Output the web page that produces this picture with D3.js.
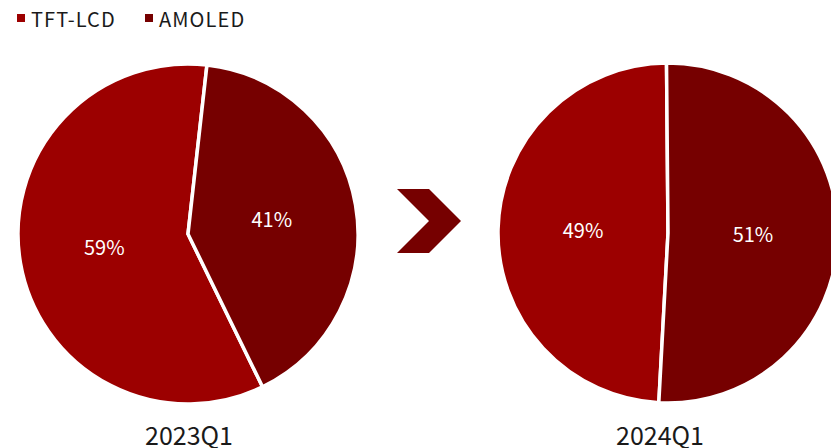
<!DOCTYPE html>
<html>
<head>
<meta charset="utf-8">
<script src="https://cdn.jsdelivr.net/npm/d3@7"></script>
<style>
  html, body { margin: 0; padding: 0; background: #fff; }
  svg { display: block; }
  text { font-family: "Noto Sans CJK SC", "Noto Sans", sans-serif; }
</style>
</head>
<body>
<svg id="chart" width="831" height="448"></svg>
<script>
// Display technology share, by quarter
const categories = ["TFT-LCD", "AMOLED"];
const periods = ["2023Q1", "2024Q1"];
const shares2023 = [59, 41];
const shares2024 = [49, 51];
const colors = ["#9c0000", "#760000"];

const svg = d3.select("#chart");
const radius = 170;
const deg = Math.PI / 180;

// one pie per period; each rotated to its own first-slice angle
const pies = [
  { period: periods[0], values: shares2023, cx: 188, cy: 234, start: 154, labelX: 189 },
  { period: periods[1], values: shares2024, cx: 668, cy: 233, start: 183.1, labelX: 660 }
];

const color = d3.scaleOrdinal().domain(categories).range(colors);
const arc = d3.arc().innerRadius(0).outerRadius(radius);
const labelArc = d3.arc().innerRadius(radius * 0.5).outerRadius(radius * 0.5);

pies.forEach(p => {
  const data = categories.map((c, i) => ({ name: c, value: p.values[i] }));
  const layout = d3.pie()
    .sort(null)
    .value(d => d.value)
    .startAngle(p.start * deg)
    .endAngle(p.start * deg + 2 * Math.PI);

  const g = svg.append("g").attr("transform", `translate(${p.cx},${p.cy})`);
  const slices = layout(data);

  g.selectAll("path")
    .data(slices)
    .join("path")
    .attr("d", arc)
    .attr("fill", d => color(d.data.name))
    .attr("stroke", "#fff")
    .attr("stroke-width", 3.5)
    .attr("stroke-linejoin", "miter");

  g.selectAll("text.pct")
    .data(slices)
    .join("text")
    .attr("class", "pct")
    .attr("transform", d => `translate(${labelArc.centroid(d)})`)
    .attr("text-anchor", "middle")
    .attr("dy", "0.35em")
    .attr("fill", "#fff")
    .attr("font-size", 20)
    .text(d => d.data.value + "%");

  svg.append("text")
    .attr("x", p.labelX)
    .attr("y", 445)
    .attr("text-anchor", "middle")
    .attr("fill", "#1a1a1a")
    .attr("font-size", 25)
    .text(p.period);
});

// chevron between the two periods
const chevron = d3.path();
chevron.moveTo(397, 189);
chevron.lineTo(429, 189);
chevron.lineTo(461, 221);
chevron.lineTo(429, 253);
chevron.lineTo(397, 253);
chevron.lineTo(429, 221);
chevron.closePath();
svg.append("path").attr("d", chevron.toString()).attr("fill", colors[1]);

// legend
const legendX = [17, 145];
const legend = svg.append("g");
categories.forEach((c, i) => {
  legend.append("rect")
    .attr("x", legendX[i])
    .attr("y", 14)
    .attr("width", 8)
    .attr("height", 8)
    .attr("fill", colors[i]);
  legend.append("text")
    .attr("x", legendX[i] + 14)
    .attr("y", 27)
    .attr("fill", "#1a1a1a")
    .attr("font-size", 20)
    .attr("font-family", "'Open Sans', sans-serif")
    .attr("letter-spacing", 1.1)
    .text(c);
});
</script>
</body>
</html>
